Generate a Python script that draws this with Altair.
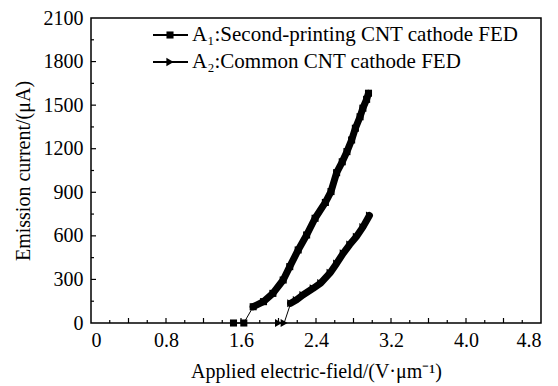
import altair as alt
import pandas as pd

# Series A1: second-printing CNT cathode FED
a1_x = [1.52, 1.63, 1.73, 1.84, 1.94, 2.05, 2.12, 2.21, 2.30, 2.39, 2.50, 2.56, 2.62, 2.68, 2.73, 2.78, 2.82, 2.87, 2.90, 2.94, 2.96]
a1_y = [0, 0, 112, 147, 204, 296, 388, 503, 606, 721, 830, 905, 1035, 1110, 1180, 1260, 1341, 1420, 1479, 1540, 1582]
# Series A2: common CNT cathode FED
a2_x = [2.00, 2.06, 2.13, 2.19, 2.26, 2.37, 2.45, 2.55, 2.62, 2.69, 2.76, 2.83, 2.90, 2.97]
a2_y = [0, 0, 136, 158, 193, 239, 275, 345, 410, 480, 540, 594, 660, 740]

x_labels = [0, 0.8, 1.6, 2.4, 3.2, 4.0, 4.8]
x_major = [0.4, 0.8, 1.2, 1.6, 2.0, 2.4, 2.8, 3.2, 3.6, 4.0, 4.4]
x_minor = [0.2, 0.6, 1.0, 1.4, 1.8, 2.2, 2.6, 3.0, 3.4, 3.8, 4.2, 4.6]
y_labels = [0, 300, 600, 900, 1200, 1500, 1800, 2100]
y_major = [300, 600, 900, 1200, 1500, 1800]
y_minor = [150, 450, 750, 1050, 1350, 1650, 1950]

legend_labels = ["A\u2081:Second-printing CNT cathode FED", "A\u2082:Common CNT cathode FED"]

W, H = 450, 305
FONT = "Liberation Serif"

xs = alt.Scale(domain=[0, 4.8], nice=False, zero=False)
ys = alt.Scale(domain=[0, 2100], nice=False, zero=False)

d1 = pd.DataFrame({"x": a1_x, "y": a1_y})
d2 = pd.DataFrame({"x": a2_x, "y": a2_y})

x_enc = alt.X("x:Q", scale=xs, axis=alt.Axis(
    values=x_labels, labelExpr="datum.value == 0 ? '0' : format(datum.value, '.1f')",
    title="Applied electric-field/(V\u00b7\u03bcm\u207b\u00b9)", ticks=False, domain=False, grid=False,
    labelPadding=7, titlePadding=11))
y_enc = alt.Y("y:Q", scale=ys, axis=alt.Axis(
    values=y_labels, format="d", title="Emission current/(\u03bcA)", ticks=False, domain=False,
    grid=False, labelPadding=8, titlePadding=10))


def series(df, shape, start, size):
    thin = alt.Chart(df).mark_line(color="black", strokeWidth=1).encode(x=x_enc, y=y_enc)
    thick = alt.Chart(df).transform_filter(alt.datum.x >= start).mark_line(
        color="black", strokeWidth=7, strokeJoin="round", strokeCap="round").encode(x=x_enc, y=y_enc)
    pts = alt.Chart(df).mark_point(shape=shape, filled=True, color="black", opacity=1, size=size).encode(
        x=x_enc, y=y_enc)
    return thin + thick + pts


s1 = series(d1, "square", 1.73, 50)
s2 = series(d2, "triangle-right", 2.13, 65)

xmaj = alt.Chart(pd.DataFrame({"x": x_major})).mark_rule(color="black", strokeWidth=1.2).encode(
    x=alt.X("x:Q", scale=xs), y=alt.value(H), y2=alt.value(H - 5))
xmin = alt.Chart(pd.DataFrame({"x": x_minor})).mark_rule(color="black", strokeWidth=1.2).encode(
    x=alt.X("x:Q", scale=xs), y=alt.value(H), y2=alt.value(H - 3))
ymaj = alt.Chart(pd.DataFrame({"y": y_major})).mark_rule(color="black", strokeWidth=1.2).encode(
    y=alt.Y("y:Q", scale=ys), x=alt.value(0), x2=alt.value(5))
ymin = alt.Chart(pd.DataFrame({"y": y_minor})).mark_rule(color="black", strokeWidth=1.2).encode(
    y=alt.Y("y:Q", scale=ys), x=alt.value(0), x2=alt.value(3))

# legend
leg_y = [17, 44]
lg_line = [alt.Chart(pd.DataFrame({"a": [0]})).mark_rule(color="black", strokeWidth=2).encode(
    x=alt.value(62), x2=alt.value(97), y=alt.value(ly)) for ly in leg_y]
lg_sq = alt.Chart(pd.DataFrame({"a": [0]})).mark_point(shape="square", filled=True, color="black",
                                                         opacity=1, size=50).encode(
    x=alt.value(79), y=alt.value(leg_y[0]))
lg_tr = alt.Chart(pd.DataFrame({"a": [0]})).mark_point(shape="triangle-right", filled=True, color="black",
                                                         opacity=1, size=70).encode(
    x=alt.value(79), y=alt.value(leg_y[1]))
lg_txt = [alt.Chart(pd.DataFrame({"t": [legend_labels[i]]})).mark_text(
    align="left", baseline="middle", font=FONT, fontSize=21, color="black").encode(
    text="t:N", x=alt.value(101), y=alt.value(leg_y[i])) for i in range(2)]

chart = alt.layer(
    xmaj, xmin, ymaj, ymin, s1, s2, lg_line[0], lg_line[1], lg_sq, lg_tr, lg_txt[0], lg_txt[1]
).properties(
    width=W, height=H,
    background="white",
    autosize=alt.AutoSizeParams(type="none"),
    padding={"left": 91, "top": 18, "right": 17, "bottom": 63},
).configure_view(stroke="black", strokeWidth=1.5).configure_axis(
    labelFont=FONT, titleFont=FONT, labelFontSize=20, titleFontSize=20,
    labelColor="black", titleColor="black", titleFontWeight="normal"
)

chart.save("out.html", embed_options={"renderer": "svg", "actions": False})
